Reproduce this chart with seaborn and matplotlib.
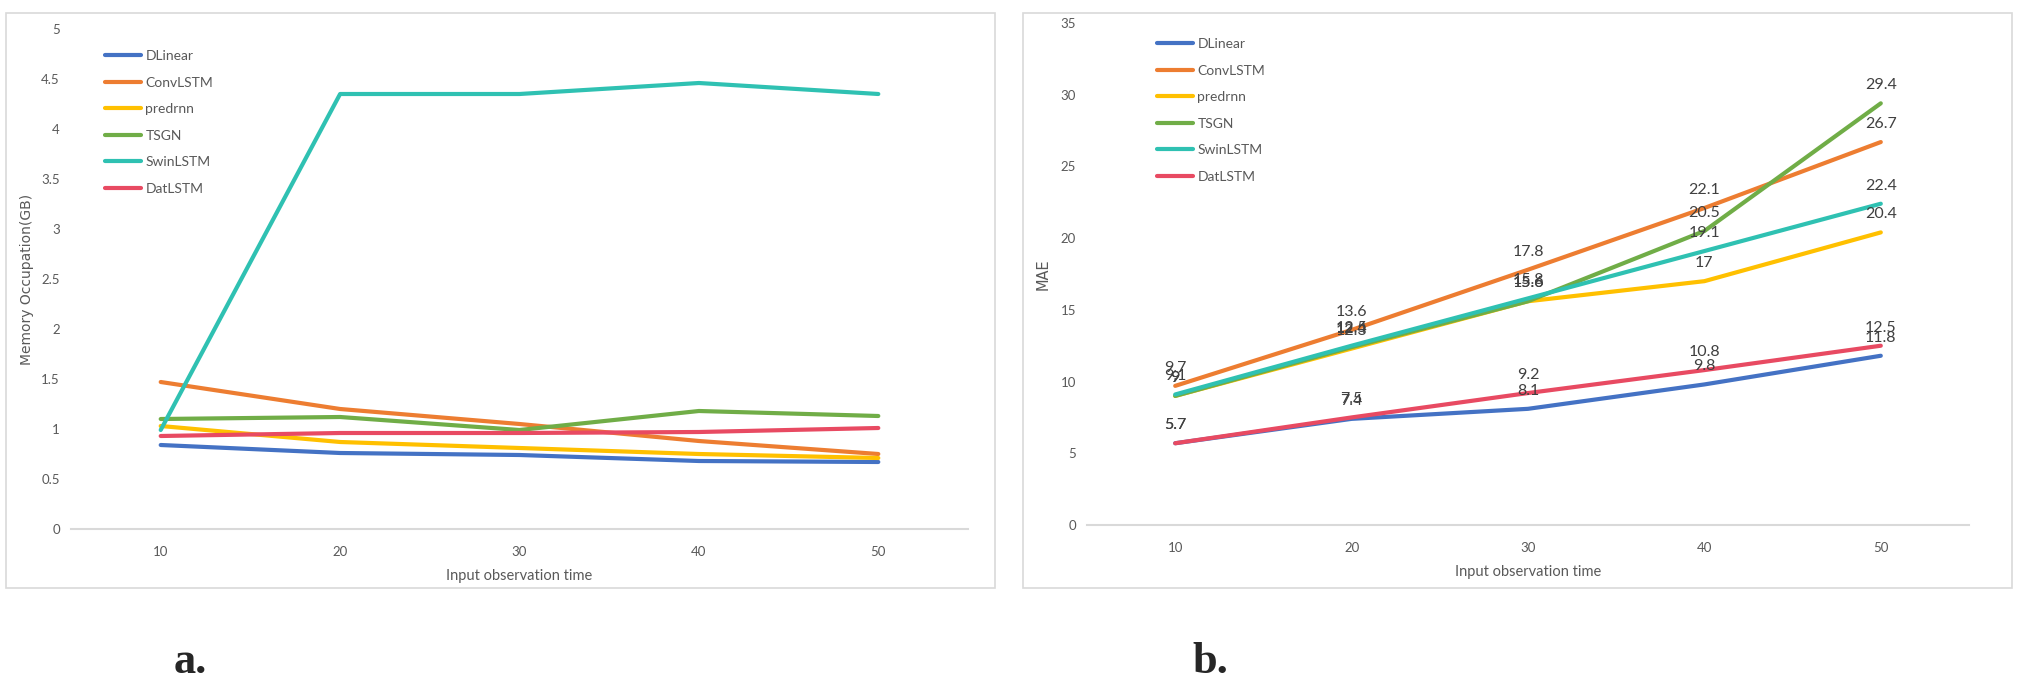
import pandas as pd
import seaborn as sns
import matplotlib.pyplot as plt
from matplotlib.patches import Rectangle

# data
obs_time = [10, 20, 30, 40, 50]
models = ["DLinear", "ConvLSTM", "predrnn", "TSGN", "SwinLSTM", "DatLSTM"]

mem_dlinear = [0.84, 0.76, 0.74, 0.68, 0.67]
mem_convlstm = [1.47, 1.20, 1.05, 0.88, 0.75]
mem_predrnn = [1.03, 0.87, 0.81, 0.75, 0.71]
mem_tsgn = [1.10, 1.12, 0.99, 1.18, 1.13]
mem_swinlstm = [0.99, 4.35, 4.35, 4.46, 4.35]
mem_datlstm = [0.93, 0.96, 0.96, 0.97, 1.01]

mae_dlinear = [5.7, 7.4, 8.1, 9.8, 11.8]
mae_convlstm = [9.7, 13.6, 17.8, 22.1, 26.7]
mae_predrnn = [9.0, 12.3, 15.6, 17.0, 20.4]
mae_tsgn = [9.0, 12.4, 15.6, 20.5, 29.4]
mae_swinlstm = [9.1, 12.5, 15.8, 19.1, 22.4]
mae_datlstm = [5.7, 7.5, 9.2, 10.8, 12.5]

colors = ["#4472C4", "#ED7D31", "#FFC000", "#70AD47", "#2FC1B2", "#E84A62"]

mem = [mem_dlinear, mem_convlstm, mem_predrnn, mem_tsgn, mem_swinlstm, mem_datlstm]
mae = [mae_dlinear, mae_convlstm, mae_predrnn, mae_tsgn, mae_swinlstm, mae_datlstm]


def long_df(series):
    rows = []
    for name, vals in zip(models, series):
        for t, v in zip(obs_time, vals):
            rows.append({"time": t, "value": v, "model": name})
    return pd.DataFrame(rows)


df_mem = long_df(mem)
df_mae = long_df(mae)

sns.set_theme(style="white")
plt.rcParams["font.family"] = ["Lato", "DejaVu Sans"]

fig = plt.figure(figsize=(20.18, 6.79), dpi=100)
W, H = 2018, 679

# panel frames
for x0, x1 in [(6, 995), (1023, 2012)]:
    fig.patches.append(Rectangle((x0 / W, 1 - 588 / H), (x1 - x0) / W, (588 - 13) / H,
                                 transform=fig.transFigure, fill=False,
                                 edgecolor="#d9d9d9", lw=1.2))

ax1 = fig.add_axes([71 / W, 1 - 529 / H, (968 - 71) / W, (529 - 29) / H])
ax2 = fig.add_axes([1087 / W, 1 - 525 / H, (1969 - 1087) / W, (525 - 23) / H])

for ax, df in [(ax1, df_mem), (ax2, df_mae)]:
    sns.lineplot(data=df, x="time", y="value", hue="model", hue_order=models,
                 palette=colors, lw=3, ax=ax, legend=True)
    ax.set_xlim(5, 55)
    ax.set_xticks(obs_time)
    for s in ["top", "right", "left"]:
        ax.spines[s].set_visible(False)
    ax.spines["bottom"].set_color("#d9d9d9")
    ax.spines["bottom"].set_linewidth(1.5)
    ax.tick_params(length=0, colors="#595959", labelsize=9.5)
    ax.tick_params(axis="x", pad=12)
    ax.tick_params(axis="y", pad=8)
    ax.set_xlabel("Input observation time", color="#595959", fontsize=10.5, labelpad=8)

ax1.set_ylim(0, 5)
ax1.set_yticks([0, 0.5, 1, 1.5, 2, 2.5, 3, 3.5, 4, 4.5, 5])
ax1.set_yticklabels(["0", "0.5", "1", "1.5", "2", "2.5", "3", "3.5", "4", "4.5", "5"])
ax1.set_ylabel("Memory Occupation(GB)", color="#595959", fontsize=10,
               family=["DejaVu Sans"], labelpad=5)

ax2.set_ylim(0, 35)
ax2.set_yticks(range(0, 36, 5))
ax2.set_ylabel("MAE", color="#595959", fontsize=10.5, family=["DejaVu Sans"], labelpad=7)

# data labels above points
for vals in mae:
    for t, v in zip(obs_time, vals):
        ax2.annotate(f"{v:g}", (t, v), xytext=(0, 13), textcoords="offset points",
                     ha="center", va="center", fontsize=11.5, color="#404040")

for ax, (lx, ly) in [(ax1, (105, 50)), (ax2, (1157, 38))]:
    handles, labels = ax.get_legend_handles_labels()
    ax.legend(handles, labels, loc="upper left", bbox_to_anchor=(lx / W, 1 - ly / H),
              bbox_transform=fig.transFigure, frameon=False, fontsize=10,
              handlelength=2.6, handletextpad=0.3, labelspacing=1.05,
              borderpad=0, borderaxespad=0, labelcolor="#595959")

fig.text(190 / W, 1 - 673 / H, "a.", ha="center", va="baseline", fontsize=32,
         fontweight="bold", family=["Liberation Serif"])
fig.text(1210 / W, 1 - 673 / H, "b.", ha="center", va="baseline", fontsize=32,
         fontweight="bold", family=["Liberation Serif"])

fig.savefig("out.png", dpi=100)
